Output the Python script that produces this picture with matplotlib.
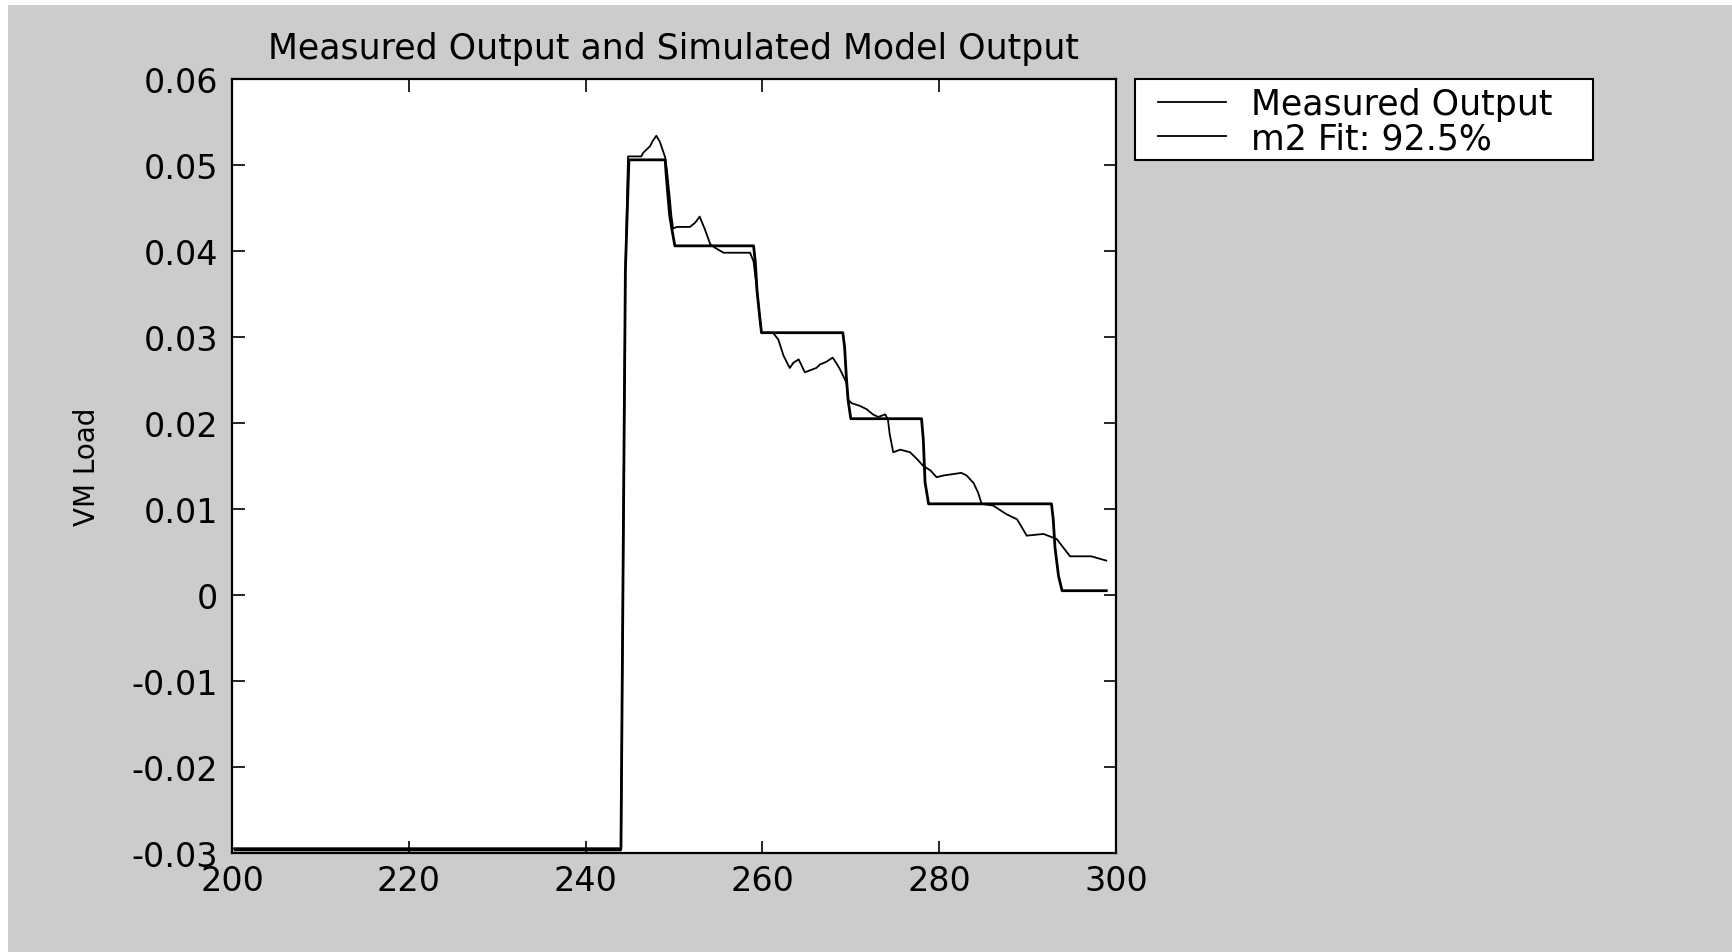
import matplotlib
matplotlib.use("Agg")
import matplotlib.pyplot as plt
from matplotlib.patches import Rectangle

# ---- data ----
meas_t = [200.3, 244.0, 244.1, 244.3, 244.5, 244.9, 249.0, 249.1, 249.3, 249.5, 249.8, 250.1,
          259.0, 259.2, 259.4, 259.7, 259.9, 269.1, 269.3, 269.5, 269.7, 270.0,
          278.0, 278.2, 278.4, 278.8, 292.7, 292.9, 293.1, 293.5, 293.9, 298.9]
meas_y = [-0.0295, -0.0295, -0.0160, 0.0110, 0.0377, 0.0506, 0.0506, 0.0491, 0.0466, 0.0442, 0.0423, 0.0406,
          0.0406, 0.0387, 0.0353, 0.0323, 0.0305, 0.0305, 0.0288, 0.0253, 0.0226, 0.0205,
          0.0205, 0.0181, 0.0131, 0.0106, 0.0106, 0.0088, 0.0055, 0.0022, 0.0005, 0.0005]

sim_t = [200.3, 244.0, 244.1, 244.3, 244.5, 244.8, 246.3, 246.5, 247.3, 247.6, 248.0, 248.4, 248.7,
         249.0, 249.2, 249.5, 249.7, 249.9, 250.3, 251.8, 252.4, 252.9, 253.5, 254.1, 254.6, 255.6,
         258.6, 259.0, 259.4, 259.7, 259.9, 261.2, 261.8, 262.4, 263.1, 263.5, 264.1, 264.8, 266.1,
         266.5, 267.2, 267.95, 268.4, 268.8, 269.5, 269.7, 270.1, 271.0, 271.8, 272.5, 273.1, 273.9,
         274.2, 274.4, 274.8, 275.6, 276.7, 277.5, 278.2, 279.0, 279.7, 280.5, 282.5, 283.1, 283.9,
         284.4, 284.8, 286.1, 287.6, 288.8, 289.1, 289.9, 291.8, 293.3, 294.2, 294.8, 297.2, 298.9]
sim_y = [-0.0297, -0.0297, -0.0160, 0.0110, 0.0377, 0.0510, 0.0510, 0.0514, 0.0522, 0.0528, 0.0534, 0.0527, 0.0518,
         0.0509, 0.0494, 0.0464, 0.0441, 0.0426, 0.0428, 0.0428, 0.0433, 0.0440, 0.0425, 0.0408, 0.0404, 0.0398,
         0.0398, 0.0388, 0.0353, 0.0323, 0.0305, 0.0305, 0.0297, 0.0278, 0.0264, 0.0270, 0.0274, 0.0259, 0.0264,
         0.0268, 0.0271, 0.0276, 0.0269, 0.0262, 0.0247, 0.0227, 0.0223, 0.0220, 0.0216, 0.0210, 0.0207, 0.0210,
         0.0204, 0.0187, 0.0166, 0.0169, 0.0166, 0.0158, 0.0150, 0.0145, 0.0137, 0.0139, 0.0142, 0.0139, 0.0130,
         0.0119, 0.0106, 0.0104, 0.0094, 0.0088, 0.0083, 0.0069, 0.0071, 0.0065, 0.0053, 0.0045, 0.0045, 0.0040]

x_ticks = [200, 220, 240, 260, 280, 300]
y_ticks = [-0.03, -0.02, -0.01, 0, 0.01, 0.02, 0.03, 0.04, 0.05, 0.06]
y_ticklabels = ["-0.03", "-0.02", "-0.01", "0", "0.01", "0.02", "0.03", "0.04", "0.05", "0.06"]
labels = ["Measured Output", "m2 Fit: 92.5%"]
title = "Measured Output and Simulated Model Output"
ylabel = "VM Load"

# ---- figure ----
plt.rcParams['font.family'] = ['DejaVu Sans']
W, H = 1732, 953
fig = plt.figure(figsize=(W / 100, H / 100), dpi=100, facecolor="white")
fig.patches.append(Rectangle((8 / W, 0), 1, 1 - 6 / H, transform=fig.transFigure,
                             facecolor="#cccccc", edgecolor="none", zorder=-10))
# legend box (MATLAB-style, outside the axes), drawn beneath the axes' artists
fig.patches.append(Rectangle((1135 / W, 1 - 161 / H), (1593 - 1135) / W, (161 - 80) / H,
                             transform=fig.transFigure, facecolor="white",
                             edgecolor="black", linewidth=1.5, zorder=-5))

ax = fig.add_axes([232 / W, 1 - 854 / H, (1116 - 232) / W, (854 - 80) / H])
ax.set_facecolor("white")
l1, = ax.plot(meas_t, meas_y, color="black", lw=2.0)
l2, = ax.plot(sim_t, sim_y, color="black", lw=1.3)

ax.set_xlim(200, 300)
ax.set_ylim(-0.03, 0.06)
ax.set_xticks(x_ticks)
ax.set_xticklabels([str(v) for v in x_ticks])
ax.set_yticks(y_ticks)
ax.set_yticklabels(y_ticklabels)
ax.tick_params(direction="in", length=9, width=1.2, top=True, right=True,
               labelsize=24, colors="black")
ax.tick_params(axis="y", pad=10)
ax.tick_params(axis="x", pad=8)
for s in ax.spines.values():
    s.set_linewidth(1.6)
    s.set_color("black")

ax.set_title(title, fontsize=25, pad=15)
ax.set_ylabel(ylabel, fontsize=20, labelpad=22)

leg = ax.legend([l1, l2], labels, loc="upper left",
                bbox_to_anchor=(1158 / W, 1 - 88 / H), bbox_transform=fig.transFigure,
                fontsize=25, frameon=False, handlelength=1.95,
                handletextpad=0.72, borderpad=0.0, labelspacing=0.0, borderaxespad=0)
for h in leg.get_lines():
    h.set_linewidth(1.3)

fig.savefig("out.png", dpi=100, facecolor=fig.get_facecolor())
